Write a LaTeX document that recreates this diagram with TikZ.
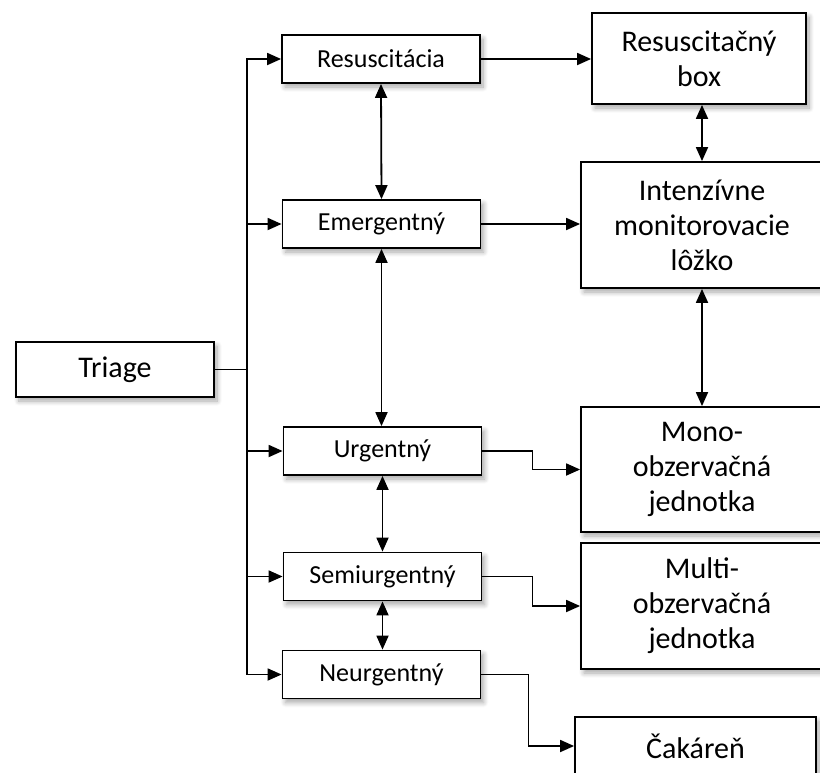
\documentclass[tikz,border=0pt]{standalone}
\usepackage{fontspec}
\setmainfont{Carlito}
\usetikzlibrary{arrows.meta,shadows.blur}

\tikzset{
  tien/.style={blur shadow={shadow xshift=3pt, shadow yshift=-4pt, shadow blur steps=8, shadow blur radius=5pt, shadow opacity=35}},
  malybox/.style={draw, line width=1.8pt, fill=white, tien, inner sep=0pt,
    minimum width=198pt, minimum height=48pt, font=\fontsize{26}{30}\selectfont},
  velkybox/.style={draw, line width=1.8pt, fill=white, tien, inner sep=0pt,
    align=center, font=\fontsize{30}{35}\selectfont},
  sip/.style={-{Triangle[length=14pt,width=12pt]}, line width=1.8pt},
  obojsip/.style={{Triangle[length=14pt,width=12pt]}-{Triangle[length=14pt,width=12pt]}, line width=1.8pt},
}

\begin{document}
\begin{tikzpicture}[x=1pt, y=-1pt]
    \useasboundingbox (0,0) rectangle (820,772);

    % Triage
    \node[malybox, minimum height=55pt, font=\fontsize{30}{35}\selectfont] (triage) at (115,369.5) {Triage};

    % kategorie
    \node[malybox] (resus) at (381,59) {Resuscitácia};
    \node[malybox] (emerg) at (381.5,224) {Emergentný};
    \node[malybox] (urg) at (382.5,451) {Urgentný};
    \node[malybox] (semi) at (382.5,576.5) {Semiurgentný};
    \node[malybox] (neurg) at (381.5,674.5) {Neurgentný};

    % miesta
    \node[velkybox, minimum width=214pt, minimum height=91pt] (rbox) at (699,58.5) {Resuscitačný\\box};
    \node[velkybox, minimum width=242pt, minimum height=126pt] (intenz) at (702,225) {Intenzívne\\monitorovacie\\lôžko};
    \node[velkybox, minimum width=242pt, minimum height=125pt] (mono) at (702,469.5) {Mono-\\obzervačná\\jednotka};
    \node[velkybox, minimum width=242pt, minimum height=126pt] (multi) at (702,606) {Multi-\\obzervačná\\jednotka};
    \node[velkybox, minimum width=241pt, minimum height=58pt] (cakar) at (695.5,746) {Čakáreň};

    % rozvetvenie z triage
    \coordinate (bus) at (247,369.5);
    \draw[line width=1.8pt] (triage.east) -- (bus);
    \draw[sip] (bus) |- (resus.west);
    \draw[sip] (bus) |- (emerg.west);
    \draw[sip] (bus) |- (urg.west);
    \draw[sip] (bus) |- (semi.west);
    \draw[sip] (bus) |- (neurg.west);

    % obojsmerne sipky
    \draw[obojsip] (resus.south) -- (emerg.north);
    \draw[obojsip] (emerg.south) -- (emerg.south |- urg.north);
    \draw[obojsip] (urg.south) -- (semi.north);
    \draw[obojsip] (semi.south) -- (semi.south |- neurg.north);
    \draw[obojsip] (intenz.north |- rbox.south) -- (intenz.north);
    \draw[obojsip] (intenz.south) -- (mono.north);

    % smerovanie pacientov
    \draw[sip] (resus.east) -- (resus.east -| rbox.west);
    \draw[sip] (emerg.east) -- (emerg.east -| intenz.west);
    \draw[sip] (urg.east) -- ++(50,0) |- (mono.west);
    \draw[sip] (semi.east) -- ++(50,0) |- (multi.west);
    \draw[sip] (neurg.east) -- ++(47,0) |- (cakar.west);
\end{tikzpicture}
\end{document}
